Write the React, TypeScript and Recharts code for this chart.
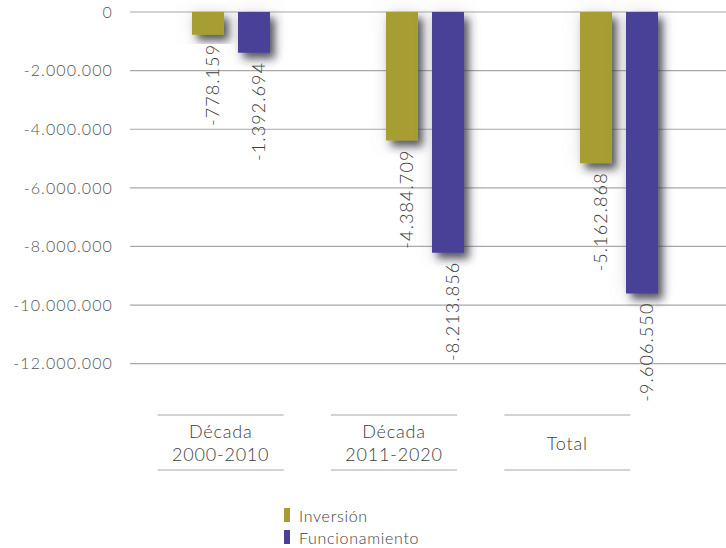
import { Bar, BarChart, CartesianGrid, LabelList, XAxis, YAxis } from "recharts";

const categories = ["Década 2000-2010", "Década 2011-2020", "Total"];
const inversion = [-778159, -4384709, -5162868];
const funcionamiento = [-1392694, -8213856, -9606550];
const yTicks = [0, -2000000, -4000000, -6000000, -8000000, -10000000, -12000000];
const seriesNames = ["Inversión", "Funcionamiento"];
const seriesColors = ["#a69e32", "#4a4098"];

const data = categories.map((name, i) => ({
  name,
  inversion: inversion[i],
  funcionamiento: funcionamiento[i],
}));

const FONT = "Lato, 'Open Sans', sans-serif";

function fmt(v: number) {
  const s = String(Math.abs(Math.round(v))).replace(/\B(?=(\d{3})+(?!\d))/g, ".");
  return v < 0 ? "-" + s : s;
}

function ValueLabel(props: any) {
  const { x, y, width, height, value } = props;
  const bottom = Math.max(y, y + height);
  const cx = x + width / 2 + 4;
  const ty = bottom + 9;
  return (
    <text
      x={cx}
      y={ty}
      transform={`rotate(-90 ${cx} ${ty})`}
      textAnchor="end"
      dominantBaseline="central"
      fontFamily={FONT}
      fontWeight={300}
      fontSize={18}
      letterSpacing={1.1}
      fill="#3d3d3d"
    >
      {fmt(value)}
    </text>
  );
}

function CategoryTick(props: any) {
  const { x, y, payload } = props;
  const label: string = payload.value;
  const sp = label.indexOf(" ");
  const lines = sp > 0 ? [label.slice(0, sp), label.slice(sp + 1)] : [label];
  const ys = lines.length === 2 ? [38, 61] : [50];
  return (
    <g>
      <line x1={x - 63} x2={x + 63} y1={y + 22} y2={y + 22} stroke="#a8a8a8" strokeWidth={1.2} />
      <line x1={x - 63} x2={x + 63} y1={y + 77} y2={y + 77} stroke="#a8a8a8" strokeWidth={1.2} />
      {lines.map((l, i) => (
        <text
          key={i}
          x={x}
          y={y + ys[i]}
          textAnchor="middle"
          dominantBaseline="central"
          fontFamily={FONT}
          fontWeight={300}
          fontSize={18}
          letterSpacing={0.8}
          fill="#404040"
        >
          {l}
        </text>
      ))}
    </g>
  );
}

export default function App() {
  return (
    <div style={{ position: "absolute", left: 0, top: 0, width: 726, height: 548, background: "#fff" }}>
      <svg width={0} height={0} style={{ position: "absolute" }}>
        <defs>
          <filter id="barShadow" x="-80%" y="-40%" width="260%" height="180%">
            <feGaussianBlur in="SourceAlpha" stdDeviation={9} result="halo" />
            <feFlood floodColor="#8a8a9a" floodOpacity={0.25} result="haloColor" />
            <feComposite in="haloColor" in2="halo" operator="in" result="haloShadow" />
            <feGaussianBlur in="SourceAlpha" stdDeviation={4.5} result="blur" />
            <feOffset in="blur" dx={5} dy={6} result="off" />
            <feFlood floodColor="#2e2e3a" floodOpacity={0.8} result="c" />
            <feComposite in="c" in2="off" operator="in" result="dark" />
            <feMerge>
              <feMergeNode in="haloShadow" />
              <feMergeNode in="dark" />
              <feMergeNode in="SourceGraphic" />
            </feMerge>
          </filter>
        </defs>
      </svg>
      <BarChart
        width={726}
        height={548}
        data={data}
        margin={{ top: 12, right: 0, bottom: 55, left: 0 }}
        barGap={14}
        barSize={32}
      >
        <CartesianGrid vertical={false} stroke="#a8a8a8" strokeWidth={1.2} xAxisId="bars" horizontalValues={yTicks} />
        <XAxis xAxisId="bars" dataKey="name" hide height={0} padding={{ left: 4, right: 10 }} />
        <XAxis
          xAxisId="labels"
          dataKey="name"
          padding={{ left: 4, right: 72 }}
          axisLine={false}
          tickLine={false}
          tickSize={0}
          tickMargin={0}
          height={100}
          interval={0}
          tick={<CategoryTick />}
        />
        <YAxis
          domain={[-13000000, 0]}
          ticks={yTicks}
          interval={0}
          width={130}
          axisLine={false}
          tickLine={false}
          tickSize={0}
          tickMargin={17}
          tickFormatter={fmt}
          tick={{ fontFamily: FONT, fontWeight: 300, fontSize: 16, letterSpacing: 1.1, fill: "#555" }}
        />
        <Bar xAxisId="bars" dataKey="inversion" name={seriesNames[0]} fill={seriesColors[0]} filter="url(#barShadow)" isAnimationActive={false}>
          <LabelList dataKey="inversion" content={<ValueLabel />} />
        </Bar>
        <Bar xAxisId="bars" dataKey="funcionamiento" name={seriesNames[1]} fill={seriesColors[1]} filter="url(#barShadow)" isAnimationActive={false}>
          <LabelList dataKey="funcionamiento" content={<ValueLabel />} />
        </Bar>
      </BarChart>
      <div style={{ position: "absolute", left: 284, top: 504, fontFamily: FONT, fontWeight: 300, fontSize: 16, letterSpacing: 0.7, color: "#404040" }}>
        {seriesNames.map((n, i) => (
          <div key={n} style={{ display: "flex", alignItems: "center", height: 22 }}>
            <span style={{ display: "inline-block", width: 6, height: 14, background: seriesColors[i], marginRight: 9 }} />
            <span>{n}</span>
          </div>
        ))}
      </div>
    </div>
  );
}
